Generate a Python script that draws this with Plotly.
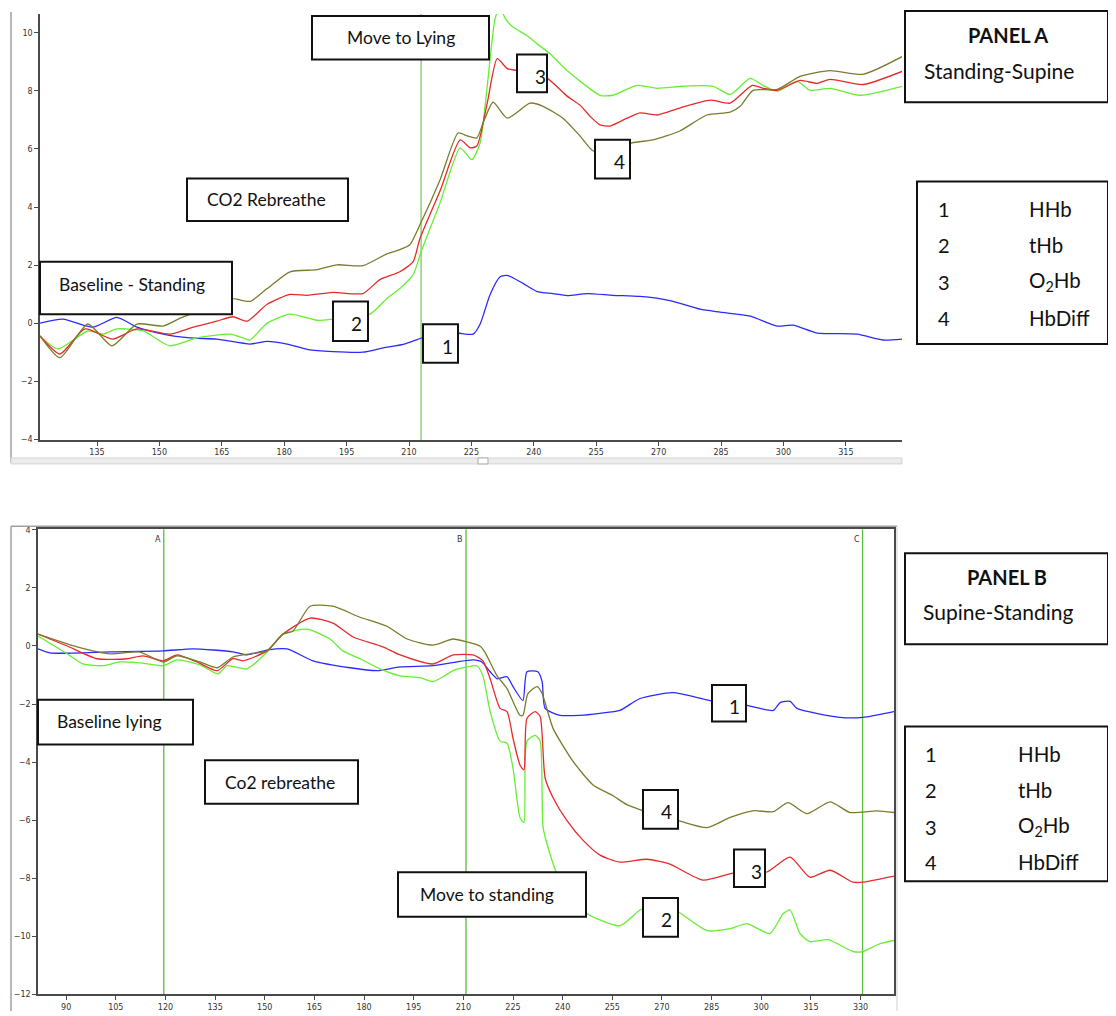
import plotly.graph_objects as go

# ---------------- DATA ----------------
# Panel A (Standing -> Supine): time (s) and concentration change
a_hhb_t = [121.3, 126.8, 134.0, 139.8, 144.6, 150.9, 157.4, 163.8, 171.8, 175.9, 180.7, 185.5, 191.7, 198.9,
           203.8, 208.6, 212.9, 217.5, 221.8, 225.4, 227.1, 229.5, 231.9, 233.8, 237.4, 240.8, 244.6, 248.0,
           252.8, 259.0, 265.5, 272.7, 280.0, 284.8, 292.0, 298.5, 302.3, 308.1, 317.7, 323.9, 328.5]
a_hhb_v = [0.0, 0.14, -0.14, 0.2, -0.14, -0.38, -0.51, -0.55, -0.72, -0.63, -0.72, -0.9, -0.98, -1.0,
           -0.85, -0.73, -0.52, -0.3, -0.34, -0.38, -0.03, 0.99, 1.6, 1.64, 1.37, 1.09, 1.02, 0.95,
           1.02, 0.96, 0.92, 0.78, 0.48, 0.38, 0.24, -0.1, -0.07, -0.34, -0.38, -0.58, -0.55]

a_thb_t = [121.3, 125.6, 132.8, 136.4, 139.8, 146.1, 152.5, 159.0, 167.0, 170.1, 171.8, 175.9, 181.4, 187.9,
           191.7, 200.6, 204.7, 207.8, 211.0, 212.9, 217.5, 222.3, 225.1, 227.1, 228.8, 230.7, 231.9, 233.1,
           235.0, 238.4, 240.8, 243.9, 248.0, 251.8, 255.9, 259.0, 264.8, 269.6, 275.9, 283.1, 287.2, 292.0,
           295.1, 298.5, 303.3, 306.4, 311.2, 318.4, 328.5]
a_thb_v = [-0.44, -0.89, -0.27, -0.38, -0.2, -0.27, -0.78, -0.51, -0.38, -0.51, -0.58, 0.0, 0.31, 0.1,
           0.14, 0.31, 0.85, 1.19, 1.67, 2.46, 4.16, 6.04, 5.63, 6.21, 8.16, 10.5, 10.9, 10.5,
           10.2, 9.9, 9.62, 9.28, 8.7, 8.26, 7.85, 7.85, 8.19, 8.09, 8.16, 8.16, 7.88, 8.43,
           8.19, 7.99, 8.33, 8.02, 8.09, 7.85, 8.16]

a_o2hb_t = [121.3, 126.1, 132.1, 138.8, 144.6, 152.5, 157.4, 163.8, 167.7, 171.1, 175.9, 181.4, 185.5, 191.7,
            198.9, 203.0, 207.8, 211.0, 212.6, 217.5, 222.3, 224.7, 226.3, 228.8, 231.2, 233.6, 236.0, 243.2,
            248.0, 251.1, 253.5, 255.9, 258.3, 262.4, 265.5, 269.6, 275.1, 282.4, 287.2, 292.5, 295.1, 298.5,
            304.0, 308.1, 311.2, 319.1, 328.5]
a_o2hb_v = [-0.44, -1.06, -0.2, -0.55, -0.2, -0.38, -0.17, 0.07, 0.22, 0.07, 0.65, 0.99, 0.96, 1.06,
            1.02, 1.5, 1.77, 2.12, 2.9, 4.57, 6.31, 6.04, 6.1, 7.58, 9.11, 8.77, 8.7, 8.43,
            7.82, 7.51, 7.13, 6.83, 6.79, 7.06, 7.24, 7.17, 7.41, 7.68, 7.58, 8.19, 8.09, 8.02,
            8.36, 8.26, 8.4, 8.22, 8.67]

a_hbdiff_t = [121.3, 126.1, 132.8, 138.6, 144.6, 150.9, 155.0, 161.0, 167.0, 171.8, 175.9, 181.4, 187.9, 192.7,
              198.9, 204.7, 207.8, 210.2, 212.6, 217.5, 221.8, 224.0, 226.3, 227.8, 230.2, 233.6, 239.1, 242.2,
              247.0, 251.1, 254.2, 258.3, 263.6, 268.6, 275.1, 281.6, 287.2, 289.6, 292.7, 298.5, 304.0, 311.2,
              319.1, 328.5]
a_hbdiff_v = [-0.44, -1.19, -0.03, -0.78, -0.03, -0.1, 0.17, 0.5, 0.85, 0.75, 1.19, 1.77, 1.84, 2.01,
              1.98, 2.39, 2.53, 2.7, 3.38, 4.95, 6.55, 6.45, 6.38, 6.89, 7.61, 7.06, 7.58, 7.47,
              7.06, 6.45, 5.94, 5.85, 6.21, 6.31, 6.62, 7.17, 7.27, 7.47, 8.02, 8.05, 8.5, 8.7,
              8.57, 9.18]

# Panel B (Supine -> Standing)
b_hhb_t = [81.5, 85.1, 103.3, 119.3, 128.3, 140.4, 144.6, 150.7, 156.7, 164.6, 175.8, 183.9, 190.9, 200.8,
           208.1, 212.9, 215.6, 218.1, 220.2, 223.2, 225.0, 228.0, 229.2, 232.5, 233.8, 234.7, 239.2, 245.2,
           251.3, 257.3, 263.4, 273.3, 284.5, 295.7, 303.6, 305.7, 308.7, 310.8, 323.8, 330.7, 340.1]
b_hhb_v = [-0.1, -0.24, -0.2, -0.17, -0.1, -0.2, -0.31, -0.14, -0.1, -0.51, -0.75, -0.85, -0.72, -0.68,
           -0.55, -0.48, -0.55, -0.89, -1.13, -1.06, -1.4, -1.88, -0.89, -0.89, -1.23, -2.15, -2.39, -2.39,
           -2.32, -2.22, -1.81, -1.61, -1.88, -2.05, -2.22, -1.95, -1.91, -2.15, -2.46, -2.46, -2.26]

b_thb_t = [81.5, 90.3, 95.1, 101.1, 106.3, 112.3, 119.3, 123.5, 130.4, 135.9, 138.6, 144.6, 150.7, 155.5,
           162.8, 169.7, 173.6, 178.8, 184.8, 190.9, 196.9, 200.8, 203.9, 206.9, 211.1, 214.1, 215.9, 218.1,
           221.1, 223.2, 225.0, 227.1, 228.3, 229.2, 231.7, 233.2, 234.1, 236.2, 238.3, 242.2, 247.4, 257.3,
           263.4, 269.4, 274.9, 283.6, 290.6, 295.7, 302.6, 306.6, 308.7, 311.7, 314.7, 320.2, 327.7, 330.7,
           335.9, 340.1]
b_thb_v = [0.34, -0.27, -0.62, -0.68, -0.55, -0.58, -0.68, -0.48, -0.65, -0.96, -0.68, -0.79, -0.21, 0.41,
           0.58, 0.24, -0.17, -0.44, -0.79, -1.03, -1.09, -1.23, -1.06, -0.85, -0.72, -0.68, -1.03, -2.26,
           -3.28, -3.35, -4.21, -5.91, -6.09, -3.28, -3.08, -3.28, -6.26, -7.18, -7.86, -8.6, -9.23, -9.64,
           -9.1, -8.85, -9.16, -9.81, -9.74, -9.57, -9.91, -9.23, -9.1, -9.91, -10.19, -10.12, -10.53, -10.53,
           -10.26, -10.15]

b_o2hb_t = [81.5, 90.3, 99.3, 108.4, 113.2, 119.3, 123.5, 129.5, 135.6, 140.4, 143.4, 150.7, 155.5, 163.7,
            170.6, 176.7, 185.7, 190.9, 200.8, 206.9, 212.9, 215.9, 218.1, 221.1, 223.2, 225.0, 227.1, 228.3,
            229.2, 231.7, 233.2, 234.7, 237.1, 241.3, 246.2, 251.3, 257.3, 265.5, 272.4, 282.4, 291.5, 296.6,
            301.7, 308.7, 314.7, 320.8, 327.7, 330.7, 340.1]
b_o2hb_v = [0.41, 0.0, -0.44, -0.44, -0.34, -0.51, -0.31, -0.55, -0.85, -0.44, -0.51, -0.17, 0.41, 0.96,
            0.79, 0.31, -0.03, -0.31, -0.62, -0.31, -0.31, -0.51, -1.13, -2.15, -2.26, -3.18, -4.1, -4.27,
            -2.5, -2.26, -2.43, -4.55, -5.23, -6.02, -6.7, -7.21, -7.45, -7.35, -7.52, -8.07, -7.83, -7.8,
            -7.79, -7.28, -7.97, -7.73, -8.14, -8.14, -7.93]

b_hbdiff_t = [81.5, 93.3, 103.3, 112.3, 119.3, 123.5, 130.4, 135.6, 140.4, 145.5, 150.7, 155.5, 158.5, 163.7,
              170.6, 178.8, 186.9, 193.0, 200.8, 206.9, 211.1, 215.0, 216.5, 220.2, 223.2, 227.1, 228.0, 229.5,
              232.3, 233.8, 237.1, 243.1, 249.2, 255.2, 259.4, 264.3, 269.4, 274.9, 283.6, 290.6, 297.5, 303.6,
              308.1, 313.8, 320.8, 326.8, 335.0, 340.1]
b_hbdiff_v = [0.41, -0.03, -0.27, -0.21, -0.55, -0.34, -0.55, -0.75, -0.38, -0.27, -0.17, 0.41, 0.51, 1.37,
              1.37, 0.99, 0.68, 0.24, 0.03, 0.24, 0.14, 0.0, -0.21, -1.03, -1.47, -2.39, -2.39, -1.64,
              -1.4, -1.64, -2.84, -3.97, -4.79, -5.16, -5.47, -5.68, -5.9, -6.02, -6.26, -5.91, -5.68, -5.71,
              -5.4, -5.78, -5.37, -5.74, -5.68, -5.74]

# event markers
a_events = [212.9]
b_events = [119.5, 210.8, 330.6]
b_event_labels = ["A", "B", "C"]

# tick values
a_xticks = [135, 150, 165, 180, 195, 210, 225, 240, 255, 270, 285, 300, 315]
a_yticks = [-4, -2, 0, 2, 4, 6, 8, 10]
b_xticks = [90, 105, 120, 135, 150, 165, 180, 195, 210, 225, 240, 255, 270, 285, 300, 315, 330]
b_yticks = [-12, -10, -8, -6, -4, -2, 0, 2, 4]

series_names = ["HHb", "tHb", "O2Hb", "HbDiff"]
series_colors = ["#2a2aff", "#66ee33", "#e62a2a", "#7b7b2c"]

# ---------------- FIGURE ----------------
# the page body keeps its default 8px margin, so the figure starts at (8, 8)
OFF = 8
W, H = 1116 - OFF, 1016 - OFF


def fx(px):
    return (px - OFF) / W


def fy(py):
    return 1 - (py - OFF) / H


fig = go.Figure()

a_series = [(a_hhb_t, a_hhb_v), (a_thb_t, a_thb_v), (a_o2hb_t, a_o2hb_v), (a_hbdiff_t, a_hbdiff_v)]
b_series = [(b_hhb_t, b_hhb_v), (b_thb_t, b_thb_v), (b_o2hb_t, b_o2hb_v), (b_hbdiff_t, b_hbdiff_v)]

for (t, v), name, col in zip(a_series, series_names, series_colors):
    fig.add_trace(go.Scatter(x=t, y=v, mode="lines", name=name, xaxis="x", yaxis="y",
                             line=dict(color=col, width=1.3, shape="spline", smoothing=0.6),
                             showlegend=False))
for (t, v), name, col in zip(b_series, series_names, series_colors):
    fig.add_trace(go.Scatter(x=t, y=v, mode="lines", name=name, xaxis="x2", yaxis="y2",
                             line=dict(color=col, width=1.3, shape="spline", smoothing=0.6),
                             showlegend=False))

axis_common = dict(showgrid=False, zeroline=False, showline=True, linecolor="#4a4a4a", linewidth=1.5,
                   ticks="outside", ticklen=4, tickcolor="#4a4a4a", tickwidth=1,
                   tickfont=dict(family="DejaVu Sans", size=8, color="#333333"))

fig.update_layout(
    width=W, height=H,
    margin=dict(l=0, r=0, t=0, b=0, pad=0),
    paper_bgcolor="white", plot_bgcolor="white",
    showlegend=False,
    xaxis=dict(domain=[fx(40), fx(902)], range=[121.3, 328.5], anchor="y",
               tickmode="array", tickvals=a_xticks, **axis_common),
    yaxis=dict(domain=[fy(440), fy(10)], range=[-4.03, 10.65], anchor="x",
               tickmode="array", tickvals=a_yticks, **axis_common),
    xaxis2=dict(domain=[fx(38), fx(894)], range=[81.5, 340.1], anchor="y2", mirror=True,
                tickmode="array", tickvals=b_xticks, **axis_common),
    yaxis2=dict(domain=[fy(999), fy(530)], range=[-12.0, 4.02], anchor="x2", mirror=True,
                tickmode="array", tickvals=b_yticks, **axis_common),
)

shapes = []
annotations = []

# event lines
for e in a_events:
    shapes.append(dict(type="line", xref="x", yref="y domain", x0=e, x1=e, y0=0, y1=1,
                       line=dict(color="#7cc95a", width=1.3), layer="below"))
for e, lab in zip(b_events, b_event_labels):
    shapes.append(dict(type="line", xref="x2", yref="y2 domain", x0=e, x1=e, y0=0, y1=1,
                       line=dict(color="#5cbf3c", width=1.3), layer="below"))
    annotations.append(dict(xref="x2", yref="y2 domain", x=e, y=0.992, text=lab, showarrow=False,
                            xanchor="right", yanchor="top", xshift=-1,
                            font=dict(family="DejaVu Sans", size=8, color="#333")))

# outer window frames (screen-capture borders)
gray = "#a0a0a0"
shapes.append(dict(type="line", xref="paper", yref="paper", x0=fx(11), x1=fx(11), y0=fy(8), y1=fy(463),
                   line=dict(color=gray, width=1.5), layer="above"))
shapes.append(dict(type="rect", xref="paper", yref="paper", x0=fx(11), x1=fx(902), y0=fy(464), y1=fy(458),
                   fillcolor="#ececec", line=dict(color="#d4d4d4", width=1), layer="above"))
shapes.append(dict(type="rect", xref="paper", yref="paper", x0=fx(478), x1=fx(488), y0=fy(464), y1=fy(458),
                   fillcolor="white", line=dict(color="#aaaaaa", width=1), layer="above"))
shapes.append(dict(type="line", xref="paper", yref="paper", x0=fx(11), x1=fx(11), y0=fy(527), y1=fy(1016),
                   line=dict(color=gray, width=1.5), layer="above"))
shapes.append(dict(type="line", xref="paper", yref="paper", x0=fx(11), x1=fx(897), y0=fy(527), y1=fy(527),
                   line=dict(color=gray, width=1.5), layer="above"))
shapes.append(dict(type="line", xref="paper", yref="paper", x0=fx(897), x1=fx(897), y0=fy(527), y1=fy(1016),
                   line=dict(color="#d0d0d0", width=1), layer="above"))

FONT = "Lato"


def box(x0, y0, x1, y1):
    shapes.append(dict(type="rect", xref="paper", yref="paper",
                       x0=fx(x0), x1=fx(x1), y0=fy(y1), y1=fy(y0),
                       fillcolor="white", line=dict(color="#111111", width=2), layer="above"))


def text(cx, cy, s, size=17.5, bold=False, anchor="center"):
    if bold:
        s = "<b>" + s + "</b>"
    annotations.append(dict(xref="paper", yref="paper", x=fx(cx), y=fy(cy), text=s, showarrow=False,
                            xanchor=anchor, yanchor="middle",
                            font=dict(family=FONT, size=size, color="#111111")))


# Panel A annotations
box(312, 12, 489, 56)
text(401, 34, "Move to Lying")
box(187, 176, 348, 219)
text(266, 197, "CO2 Rebreathe")
box(40, 260, 232, 313)
text(132, 283, "Baseline - Standing")
box(333, 300, 368, 340)
text(356, 322, "2", size=19)
box(423, 323, 458, 362)
text(447, 346, "1", size=19)
box(517, 51, 547, 89)
text(540, 73, "3", size=19)
box(595, 137, 630, 176)
text(619, 159, "4", size=19)

box(905, 7, 1108, 99)
text(1008, 31, "PANEL A", size=20, bold=True)
text(999, 67, "Standing-Supine", size=21)

box(917, 179, 1108, 343)
legend_rows_a = [207, 243, 280, 317]
legend_labels = ["HHb", "tHb", "O<sub>2</sub>Hb", "HbDiff"]
for i, (yy, lab) in enumerate(zip(legend_rows_a, legend_labels)):
    text(936, yy, str(i + 1), size=20, anchor="left")
    text(1027, yy, lab, size=20.5, anchor="left")

# Panel B annotations
box(38, 702, 193, 747)
text(109, 724, "Baseline lying")
box(205, 763, 358, 807)
text(280, 785, "Co2 rebreathe")
box(398, 876, 586, 921)
text(487, 898, "Move to standing")
box(712, 687, 746, 724)
text(734, 709, "1", size=19)
box(643, 793, 678, 832)
text(666, 815, "4", size=19)
box(734, 853, 765, 891)
text(757, 875, "3", size=19)
box(643, 902, 678, 941)
text(666, 924, "2", size=19)

box(905, 554, 1108, 646)
text(1007, 578, "PANEL B", size=20, bold=True)
text(998, 613, "Supine-Standing", size=21)

box(905, 729, 1108, 885)
legend_rows_b = [757, 793, 830, 866]
for i, (yy, lab) in enumerate(zip(legend_rows_b, legend_labels)):
    text(923, yy, str(i + 1), size=20, anchor="left")
    text(1016, yy, lab, size=20.5, anchor="left")

fig.update_layout(shapes=shapes, annotations=annotations)

fig.write_html("out.html")
